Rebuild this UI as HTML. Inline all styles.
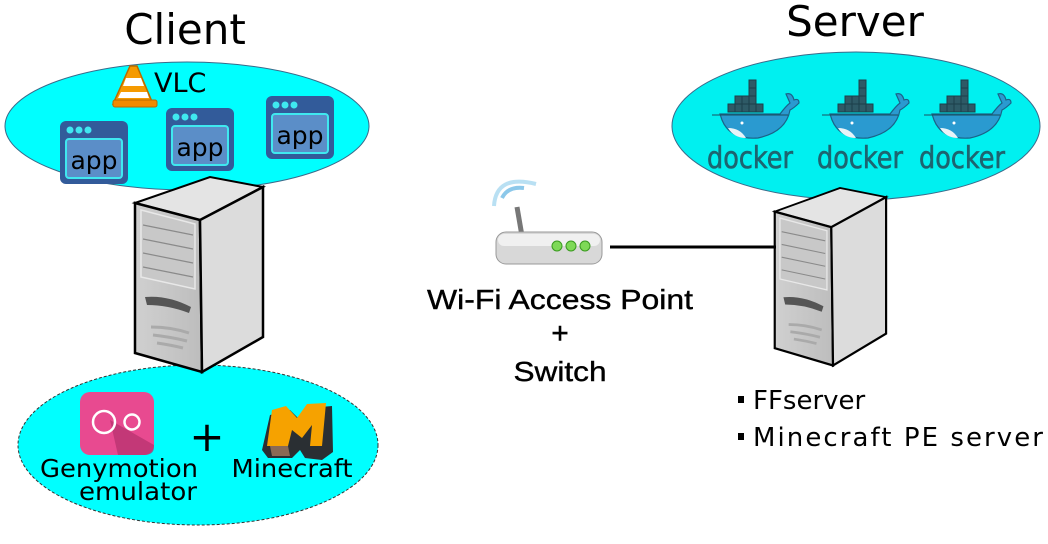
<!DOCTYPE html>
<html><head><meta charset="utf-8"><style>
html,body{margin:0;padding:0;background:#fff;}
svg{display:block;}
</style></head><body>
<svg width="1048" height="544" viewBox="0 0 1048 544" xmlns="http://www.w3.org/2000/svg">
<defs>
  <linearGradient id="tw" x1="0" y1="0" x2="1" y2="0">
    <stop offset="0" stop-color="#d0d0d0"/><stop offset="1" stop-color="#bdbdbd"/>
  </linearGradient>
  <g id="tower">
    <path d="M2,26 L77,0 L130,10 L67,43 Z" fill="#e4e4e4" stroke="#000" stroke-width="2"/>
    <path d="M2,26 L67,43 L69,195 L2,176 Z" fill="url(#tw)" stroke="#000" stroke-width="2.5"/>
    <path d="M67,43 L130,10 L130,160 L69,195 Z" fill="#dcdcdc" stroke="#000" stroke-width="2.5"/>
    <path d="M8,33 L62,47 L62,112 L8,100 Z" fill="#c8c8c8" stroke="#e8e8e8" stroke-width="1.5"/>
    <g stroke="#8a8a8a" stroke-width="1.2"><line x1="10" y1="48" x2="60" y2="58"/><line x1="10" y1="62" x2="60" y2="72"/><line x1="10" y1="76" x2="60" y2="86"/><line x1="10" y1="90" x2="60" y2="100"/></g>
    <path d="M12,120 Q35,118 58,130 L56,136 Q35,128 14,128 Z" fill="#555"/>
    <g stroke="#aaa" stroke-width="3" fill="none"><path d="M18,150 Q38,150 56,156"/><path d="M20,158 Q38,160 54,164"/><path d="M24,166 Q38,168 50,171"/></g>
  </g>
  <g id="app">
    <rect x="0" y="0" width="68" height="63" rx="6" fill="#325b9a"/>
    <circle cx="10" cy="9" r="3.5" fill="#3fe8f0"/><circle cx="19" cy="9" r="3.5" fill="#3fe8f0"/><circle cx="28" cy="9" r="3.5" fill="#3fe8f0"/>
    <rect x="6" y="18" width="56" height="39" rx="3" fill="#5b8ec8" stroke="#3fe8f0" stroke-width="2"/>
    <text x="34" y="48" font-family="DejaVu Sans, Liberation Sans, sans-serif" font-size="25" text-anchor="middle" fill="#000">app</text>
  </g>
  <g id="docker">
    <rect x="26" y="34" width="7" height="8" fill="#2e5a66" stroke="#1c3f4a"/>
    <rect x="33" y="34" width="7" height="8" fill="#2e5a66" stroke="#1c3f4a"/>
    <rect x="40" y="34" width="7" height="8" fill="#2e5a66" stroke="#1c3f4a"/>
    <rect x="47" y="34" width="7" height="8" fill="#2e5a66" stroke="#1c3f4a"/>
    <rect x="54" y="34" width="7" height="8" fill="#2e5a66" stroke="#1c3f4a"/>
    <rect x="33" y="26" width="7" height="8" fill="#2e5a66" stroke="#1c3f4a"/>
    <rect x="40" y="26" width="7" height="8" fill="#2e5a66" stroke="#1c3f4a"/>
    <rect x="47" y="26" width="7" height="8" fill="#2e5a66" stroke="#1c3f4a"/>
    <rect x="47" y="18" width="7" height="8" fill="#2e5a66" stroke="#1c3f4a"/>
    <rect x="47" y="10" width="7" height="8" fill="#2e5a66" stroke="#1c3f4a"/>
    <path d="M18,44 H78 Q84,36 88,33 L84,24 Q90,22 92,30 Q97,28 97,33 Q92,38 88,40 Q84,62 56,68 Q28,70 20,50 Z" fill="#2a9ad0" stroke="#1a6388" stroke-width="1.2"/>
    <path d="M26,58 Q38,58 44,68 Q32,68 26,58 Z" fill="#e8f4f8"/>
    <circle cx="40" cy="53" r="1.5" fill="#fff"/>
    <line x1="10" y1="45" x2="86" y2="45" stroke="#1a4f60" stroke-width="1"/>
    <text x="48" y="98" font-family="DejaVu Sans, Liberation Sans, sans-serif" font-size="30" text-anchor="middle" fill="#1d6470" stroke="#1d6470" stroke-width="0.6" textLength="86" lengthAdjust="spacingAndGlyphs">docker</text>
  </g>
</defs>

<text x="185" y="44" font-family="DejaVu Sans, sans-serif" font-size="42" text-anchor="middle">Client</text>
<text x="855" y="36" font-family="DejaVu Sans, sans-serif" font-size="42" text-anchor="middle">Server</text>

<ellipse cx="187" cy="126" rx="182" ry="64" fill="#00ffff" stroke="#3a6a8a" stroke-width="1"/>
<g>
  <path d="M130,66 L137,66 L153,104 L113,104 Z" fill="#f59a00" stroke="#b86a00" stroke-width="1.5"/>
  <path d="M126,78 L141,78 L144,86 L123,86 Z" fill="#fff"/>
  <path d="M121,92 L147,92 L149,98 L118,98 Z" fill="#fff"/>
  <rect x="113" y="100" width="44" height="7" rx="2" fill="#f08a00" stroke="#b86a00"/>
</g>
<text x="154" y="92" font-family="DejaVu Sans, sans-serif" font-size="27">VLC</text>
<use href="#app" x="60" y="121"/>
<use href="#app" x="166" y="108"/>
<use href="#app" x="266" y="96"/>

<ellipse cx="856" cy="126" rx="184" ry="74" fill="#00f0f0" stroke="#3a6a8a" stroke-width="1"/>
<use href="#docker" x="702" y="70"/>
<use href="#docker" x="812" y="70"/>
<use href="#docker" x="914" y="70"/>

<ellipse cx="198" cy="445" rx="180" ry="80" fill="#00ffff" stroke="#333" stroke-width="1" stroke-dasharray="3,2"/>

<use href="#tower" x="133" y="177"/>
<g transform="translate(773,188) scale(0.87,0.91)"><use href="#tower"/></g>

<line x1="610" y1="247" x2="776" y2="247" stroke="#000" stroke-width="3"/>

<g>
  <path d="M502,198 Q508,186 524,188" stroke="#8cc8ea" stroke-width="4" fill="none"/>
  <path d="M494,206 Q496,174 536,184" stroke="#a8d8f0" stroke-width="4" fill="none" opacity="0.8"/>
  <line x1="517" y1="207" x2="522" y2="236" stroke="#777" stroke-width="5"/>
  <rect x="496" y="232" width="106" height="32" rx="10" fill="#d8d8d8" stroke="#999"/>
  <rect x="498" y="234" width="102" height="12" rx="6" fill="#f0f0f0"/>
  <circle cx="557" cy="246" r="5" fill="#7ed957" stroke="#3a9a20"/>
  <circle cx="571" cy="246" r="5" fill="#7ed957" stroke="#3a9a20"/>
  <circle cx="585" cy="246" r="5" fill="#7ed957" stroke="#3a9a20"/>
</g>
<g font-family="Liberation Sans, sans-serif" font-size="28" text-anchor="middle" stroke="#000" stroke-width="0.4">
  <text x="560" y="309" textLength="266" lengthAdjust="spacingAndGlyphs">Wi-Fi Access Point</text>
  <text x="560" y="343" font-size="30">+</text>
  <text x="560" y="381" textLength="93" lengthAdjust="spacingAndGlyphs">Switch</text>
</g>

<g font-family="DejaVu Sans, sans-serif" font-size="26">
  <rect x="738" y="396" width="6" height="7" fill="#000"/>
  <text x="753" y="409">FFserver</text>
  <rect x="738" y="433" width="6" height="7" fill="#000"/>
  <text x="753" y="446" textLength="290" lengthAdjust="spacing">Minecraft  PE  server</text>
</g>

<rect x="80" y="392" width="74" height="63" rx="10" fill="#e84a90"/>
<path d="M110,420 L154,445 L154,447 Q154,455 144,455 L118,455 Z" fill="#b3306c" opacity="0.7"/>
<circle cx="104" cy="422" r="11" fill="none" stroke="#fff" stroke-width="2.5"/>
<circle cx="132" cy="422" r="7.5" fill="none" stroke="#fff" stroke-width="2.5"/>
<text x="207" y="451" font-family="DejaVu Sans, sans-serif" font-size="42" text-anchor="middle">+</text>
<g>
  <path d="M270,415 L290,410 L300,420 L310,408 L332,406 L333,452 L322,460 L305,458 L300,450 L292,458 L268,458 L262,450 Z" fill="#2a2f33"/>
  <path d="M272,410 L286,406 L297,418 L307,404 L326,403 L322,446 L310,446 L312,425 L302,438 L292,430 L288,446 L267,446 Z" fill="#f6a200"/>
  <path d="M270,446 L288,446 L290,456 L272,456 Z" fill="#8a6a55"/>
</g>
<g font-family="DejaVu Sans, sans-serif" font-size="25" text-anchor="middle">
  <text x="119" y="477" textLength="158" lengthAdjust="spacingAndGlyphs">Genymotion</text>
  <text x="138" y="500" textLength="118" lengthAdjust="spacingAndGlyphs">emulator</text>
  <text x="292" y="477" textLength="121" lengthAdjust="spacingAndGlyphs">Minecraft</text>
</g>
</svg>
</body></html>
